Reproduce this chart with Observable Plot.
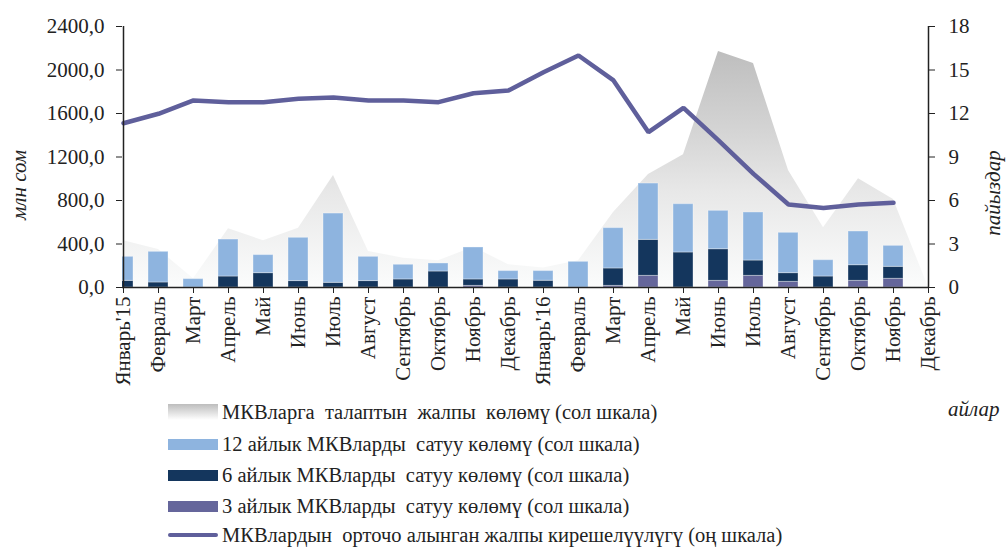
<!DOCTYPE html>
<html>
<head>
<meta charset="utf-8">
<script src="https://cdn.jsdelivr.net/npm/d3@7"></script>
<script src="https://cdn.jsdelivr.net/npm/@observablehq/plot@0.6"></script>
<style>
  html, body { margin: 0; padding: 0; background: #fff; }
  body { width: 1008px; height: 547px; position: relative; overflow: hidden; font-family: "Liberation Serif", "DejaVu Serif", serif; color: #222; }
  #chart { position: absolute; left: 0; top: 0; }
  #chart svg g[aria-label$="tick label"] text { font-size: 21px !important; font-family: "Liberation Serif", serif; }
  #chart svg g[aria-label="text"] text { font-size: 21px !important; font-family: "Liberation Serif", serif; }
  .row { position: absolute; left: 168px; height: 20px; display: flex; align-items: center; white-space: pre; font-size: 20.5px; line-height: 20px; }
  .sw { width: 50px; height: 11px; margin-right: 4px; flex: none; }
  .ln { width: 50px; height: 4px; border-radius: 2px; margin-right: 4px; flex: none; }
  #xlab { position: absolute; left: 948px; top: 397px; font-size: 21px; font-style: italic; line-height: 24px; }
</style>
</head>
<body>
<div id="chart"></div>
<div id="legend"></div>
<div id="xlab">айлар</div>
<script>
// ---- data ----
const monthLabels = ["Январь'15","Февраль","Март","Апрель","Май","Июнь","Июль","Август","Сентябрь","Октябрь","Ноябрь","Декабрь",
                     "Январь'16","Февраль","Март","Апрель","Май","Июнь","Июль","Август","Сентябрь","Октябрь","Ноябрь","Декабрь"];
// total demand for T-bills (left scale, mln som)
const demandTotal = [430,350,80,540,430,545,1030,330,270,245,370,210,180,245,690,1040,1220,2170,2060,1075,550,1000,810,0];
// sales volumes (left scale, mln som), Jan'15 .. Nov'16
const sales3m  = [0,0,0,0,0,0,0,0,0,0,15,0,0,0,15,107,0,61,107,52,0,61,80];
const sales6m  = [61,46,0,101,132,59,43,59,74,147,59,74,62,0,160,331,322,291,141,80,101,144,110];
const sales12m = [221,282,77,340,166,398,637,223,135,74,294,77,89,236,371,518,444,353,442,371,150,310,193];
// weighted average yield (right scale, %), Jan'15 .. Nov'16
const yieldAvg = [11.33,11.98,12.9,12.78,12.78,13.01,13.1,12.9,12.9,12.78,13.4,13.59,14.85,16.0,14.28,10.71,12.39,10.14,7.84,5.72,5.49,5.72,5.84];

const leftTicks = [0,400,800,1200,1600,2000,2400];
const rightMax = 18;
const seriesNames = [
  "3 айлык МКВларды  сатуу көлөмү (сол шкала)",
  "6 айлык МКВларды  сатуу көлөмү (сол шкала)",
  "12 айлык МКВларды  сатуу көлөмү (сол шкала)"
];
const seriesColors = ["#65669b", "#14365d", "#8eb4df"];
const demandName = "МКВларга  талаптын  жалпы  көлөмү (сол шкала)";
const yieldName = "МКВлардын  орточо алынган жалпы кирешелүүлүгү (оң шкала)";
const lineColor = "#5f5f9b";

// ---- tables ----
const idx = d3.range(monthLabels.length);
const areaRows = demandTotal.map((v, i) => ({i, v}));
const barRows = [];
sales3m.forEach((v, i) => {
  barRows.push({i, s: seriesNames[0], v: sales3m[i]});
  barRows.push({i, s: seriesNames[1], v: sales6m[i]});
  barRows.push({i, s: seriesNames[2], v: sales12m[i]});
});
const yieldRows = yieldAvg.map((v, i) => ({i, v}));
const yMax = leftTicks[leftTicks.length - 1];
const toLeft = v => v * yMax / rightMax;

// ---- layout ----
const W = 1008, H = 398;
const fl = 122, fr = 928, ft = 26, fb = 287;
const step = (fr - fl) / (monthLabels.length - 1);

const chart = Plot.plot({
  width: W, height: H,
  marginLeft: fl, marginRight: W - fr, marginTop: ft, marginBottom: H - fb,
  style: {fontFamily: "'Liberation Serif', serif", fontSize: "21px", color: "#222", background: "transparent"},
  x: {type: "band", domain: idx, range: [fl - step / 2, fr + step / 2], paddingInner: 0.43, paddingOuter: 0.215, label: null},
  y: {domain: [0, yMax], label: null},
  color: {domain: seriesNames, range: seriesColors},
  marks: [
    Plot.areaY(areaRows, {x: "i", y: "v", fill: "url(#demandGrad)"}),
    Plot.barY(barRows, {x: "i", y: "v", fill: "s", clip: true, stroke: "#ffffff", strokeOpacity: 0.35, strokeWidth: 1}),
    Plot.lineY(yieldRows, {x: "i", y: d => toLeft(d.v), stroke: lineColor, strokeWidth: 4.5, strokeLinejoin: "miter"}),
    Plot.ruleY([0], {stroke: "#222", strokeWidth: 1.5}),
    Plot.ruleX([0, monthLabels.length - 1], {stroke: "#222", strokeWidth: 1.5}),
    Plot.axisX({ticks: idx, tickFormat: i => monthLabels[i], tickRotate: -90, tickSize: 6, tickPadding: 3, stroke: "#222"}),
    Plot.axisY({ticks: leftTicks, tickFormat: d => d.toFixed(1).replace(".", ","), tickSize: 6, tickPadding: 12, label: null}),
    Plot.axisY({anchor: "right", ticks: leftTicks, tickFormat: d => String(d * rightMax / yMax), tickSize: 6, tickPadding: 14, label: null}),
    Plot.text(["млн сом"], {frameAnchor: "left", textAnchor: "middle", dx: -103, dy: 28, rotate: -90, fontStyle: "italic"}),
    Plot.text(["пайыздар"], {frameAnchor: "right", textAnchor: "middle", dx: 65, dy: 36, rotate: -90, fontStyle: "italic"})
  ]
});

// gradient for the demand area
const ns = "http://www.w3.org/2000/svg";
const defs = document.createElementNS(ns, "defs");
const grad = document.createElementNS(ns, "linearGradient");
grad.setAttribute("id", "demandGrad");
grad.setAttribute("x1", "0"); grad.setAttribute("y1", "0");
grad.setAttribute("x2", "0"); grad.setAttribute("y2", "1");
[[0, "#bebebe"], [0.35, "#d5d5d5"], [0.6, "#e8e8e8"], [1, "#fbfcfc"]].forEach(([o, c]) => {
  const s = document.createElementNS(ns, "stop");
  s.setAttribute("offset", o); s.setAttribute("stop-color", c);
  grad.appendChild(s);
});
defs.appendChild(grad);
chart.insertBefore(defs, chart.firstChild);
document.getElementById("chart").appendChild(chart);

// legend
const legend = document.getElementById("legend");
const rowCenters = [412, 444, 475, 506, 535];
const rows = [
  {label: demandName, kind: "grad"},
  {label: seriesNames[2], kind: "rect", color: seriesColors[2]},
  {label: seriesNames[1], kind: "rect", color: seriesColors[1]},
  {label: seriesNames[0], kind: "rect", color: seriesColors[0]},
  {label: yieldName, kind: "line", color: lineColor}
];
rows.forEach((r, k) => {
  const row = document.createElement("div");
  row.className = "row";
  row.style.top = (rowCenters[k] - 10) + "px";
  const sw = document.createElement("div");
  if (r.kind === "line") { sw.className = "ln"; sw.style.background = r.color; }
  else if (r.kind === "grad") { sw.className = "sw"; sw.style.height = "16px"; sw.style.background = "linear-gradient(#bdbdbd, #ffffff)"; }
  else { sw.className = "sw"; sw.style.background = r.color; }
  const t = document.createElement("span");
  t.textContent = r.label;
  row.appendChild(sw); row.appendChild(t);
  legend.appendChild(row);
});
</script>
</body>
</html>
